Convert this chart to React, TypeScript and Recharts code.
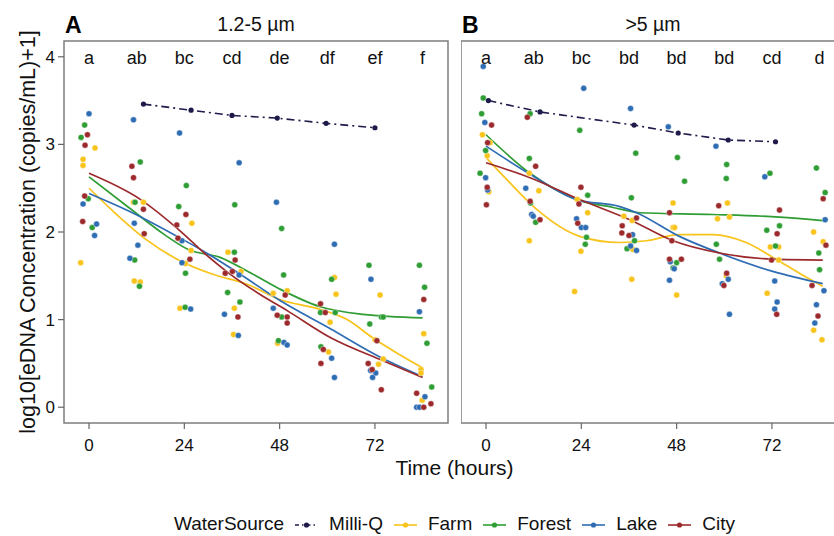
import React from "react";
import { ComposedChart, Scatter, Line, XAxis, YAxis, ReferenceArea } from "recharts";

type Pt = [number, number];

const FONT = '"Liberation Sans", Arial, Helvetica, sans-serif';

// axis ticks and group letters
const timeTicks = [0, 24, 48, 72];
const valueTicks = [0, 1, 2, 3, 4];
const sampleHours = [0, 12, 24, 36, 48, 60, 72, 84];
const lettersA = ["a", "ab", "bc", "cd", "de", "df", "ef", "f"];
const lettersB = ["a", "ab", "bc", "bd", "bd", "bd", "cd", "d"];
const panelTitles = ["1.2-5 µm", ">5 µm"];
const panelTags = ["A", "B"];

const sourceNames = ["Milli-Q", "Farm", "Forest", "Lake", "City"];
const sourceColors = ["#1e1b4b", "#f8c31a", "#2e9d33", "#2e6cb3", "#9c2a2c"];

// panel A (1.2-5 µm): [time (h, jittered), log10 conc]
const farmA: Pt[] = [
  [1.5, 2.96], [-1.5, 2.83], [-1.5, 2.76], [-2.1, 1.65],
  [13.7, 2.34], [11.2, 2.34], [11.4, 1.44], [12.9, 1.43],
  [25.9, 2.1], [25.7, 1.79], [24.3, 1.64], [22.9, 1.13],
  [35, 1.77], [38.3, 1.55], [36.6, 1.13], [36.4, 0.83],
  [46.4, 1.3], [49.9, 1.33], [47.5, 0.73],
  [61.8, 1.48], [62.2, 1.29], [60.7, 0.97], [60.3, 0.63],
  [73.3, 1.28], [72, 0.77], [72.9, 0.49], [74.1, 0.55],
  [84.3, 0.84], [83.6, 0.43], [83.6, 0.39], [83.9, 0.08],
];
const forestA: Pt[] = [
  [-1.1, 3.22], [-2, 3.08], [-0.2, 2.38], [0.8, 2.05],
  [12.9, 2.8], [11.6, 2.34], [11.5, 1.68], [12.7, 1.38],
  [24.5, 2.53], [22.6, 2.29], [24.3, 1.53], [24.2, 1.14],
  [36.7, 2.31], [36.6, 1.77], [34.9, 1.31], [38, 1.2],
  [48.5, 2.04], [49, 1.51], [48.5, 1.03], [47.7, 0.76],
  [61.1, 1.46], [58.3, 1.08], [62, 1.08], [58.4, 0.69],
  [70.5, 1.62], [70.7, 0.95], [73.6, 1.03], [74.1, 1.03],
  [83.2, 1.62], [84.5, 1.37], [85.1, 0.73], [86.3, 0.23],
];
const lakeA: Pt[] = [
  [0, 3.35], [-1.5, 2.32], [1.9, 2.09], [1.4, 1.96],
  [11.2, 3.28], [11.4, 2.1], [12.3, 1.85], [10.3, 1.7],
  [22.8, 3.13], [23.4, 1.9], [23.4, 1.65], [25.6, 1.12],
  [37.8, 2.79], [37.8, 1.51], [34.1, 1.06], [37.6, 0.82],
  [47.2, 2.34], [46.4, 1.13], [49.1, 0.74], [49.9, 0.71],
  [61.8, 1.86], [61.1, 0.56], [61.8, 0.34],
  [71, 1.46], [70.9, 0.42], [72.2, 0.39], [71.4, 0.34],
  [83.2, 1.09], [84.6, 0.12], [82.5, 0], [83.2, 0],
];
const cityA: Pt[] = [
  [-0.4, 3.11], [-1, 2.99], [-1.1, 2.41], [-1.6, 2.12],
  [10.8, 2.75], [11.2, 2.62], [13.7, 2.26], [13.9, 1.98],
  [24.4, 2.2], [22.1, 2.08], [22.4, 1.93], [25.4, 1.69],
  [36.8, 1.68], [36.1, 1.55], [34.3, 1.53], [37.5, 1.03],
  [49.4, 1.28], [47.4, 1.05], [49.9, 1.03], [49.9, 0.96],
  [58.3, 1.18], [59.5, 1.08], [59, 0.66], [58.4, 0.5],
  [72.5, 0.76], [70.3, 0.5], [71.3, 0.43], [73.6, 0.2],
  [84.3, 1.23], [82.5, 0.16], [84.3, 0], [86.1, 0.04],
];
const milliQA: Pt[] = [[13.7, 3.46], [25.7, 3.39], [36, 3.33], [47.4, 3.3], [59.7, 3.24], [72, 3.19]];

// loess fits, panel A
const farmFitA: Pt[] = [[0, 2.5], [6, 2.24], [14.5, 1.91], [23, 1.67], [31, 1.52], [40, 1.4], [48, 1.23], [58, 1.12], [65, 1.0], [71.5, 0.79], [77.5, 0.62], [84, 0.45]];
const forestFitA: Pt[] = [[0, 2.63], [10, 2.28], [19, 1.97], [25, 1.8], [33, 1.71], [40, 1.55], [48, 1.35], [58, 1.15], [69, 1.06], [84, 1.02]];
const lakeFitA: Pt[] = [[0, 2.44], [10, 2.24], [23, 1.93], [30, 1.75], [38, 1.52], [48, 1.22], [61, 0.89], [73, 0.58], [84, 0.35]];
const cityFitA: Pt[] = [[0, 2.67], [13, 2.37], [23, 2.01], [29, 1.76], [35.5, 1.52], [43, 1.29], [50, 1.1], [61, 0.79], [73, 0.55], [84, 0.34]];

// panel B (>5 µm)
const farmB: Pt[] = [
  [-0.9, 3.11], [1, 3.02], [0.3, 2.87], [0.7, 2.46],
  [10.9, 2.67], [13.3, 2.47], [10.9, 1.9],
  [23, 2.37], [25.6, 2.22], [23.9, 1.78], [22.3, 1.32],
  [34.7, 2.18], [36.8, 2.13], [37, 1.8], [36.7, 1.46],
  [47.1, 2.33], [47.1, 2.05], [47.5, 2.05], [48, 1.28],
  [60.8, 2.33], [58.3, 2.15], [61.3, 2.17], [60.5, 1.5],
  [71.6, 1.83], [73.7, 1.83], [73.7, 1.68], [70.8, 1.3],
  [82.5, 2.0], [84.9, 1.89], [82.5, 0.88], [84.6, 0.77],
];
const forestB: Pt[] = [
  [-0.7, 3.53], [-1.1, 3.35], [-0.1, 2.93], [-1.5, 2.67],
  [11.1, 3.35], [10.9, 2.84], [11.2, 2.33], [12.5, 2.11],
  [23.6, 3.16], [25.6, 2.42], [25.3, 1.94], [25, 1.86],
  [37.7, 2.9], [36.6, 2.39], [37.4, 1.9], [35.5, 1.81],
  [48.2, 2.85], [50, 2.58], [48, 1.65], [47.1, 1.59],
  [60.6, 2.77], [60.5, 2.61], [58, 1.86], [58.8, 1.69],
  [71.5, 2.67], [73.9, 2.07], [70.7, 2.02], [72.9, 1.84],
  [83.2, 2.73], [85.4, 2.45], [83.8, 1.76], [84, 1.57],
];
const lakeB: Pt[] = [
  [-0.7, 3.89], [-0.3, 3.25], [-0.1, 2.62], [0.4, 2.48],
  [10, 2.5], [11.5, 2.2], [11.9, 2.18],
  [24.6, 3.64], [22.8, 2.15], [24, 2.05], [25.1, 2.05],
  [36.4, 3.41], [36.9, 1.97], [36.4, 1.84], [37.9, 1.79],
  [45.9, 3.2], [46.4, 1.66], [47.4, 1.58], [46.2, 1.45],
  [57.9, 2.98], [61, 1.46], [59.5, 1.41], [61.3, 1.06],
  [70.2, 2.63], [72.7, 1.44], [73.3, 1.2], [72.7, 1.12],
  [85.4, 2.14], [85.1, 1.33], [83.2, 1.17], [82.8, 0.96],
];
const cityB: Pt[] = [
  [1.4, 3.22], [0.4, 3.02], [0.3, 2.51], [0.1, 2.31],
  [10.4, 3.31], [12.5, 2.75], [11.1, 2.35], [13.6, 2.14],
  [23.9, 2.51], [23.4, 2.32], [23.1, 2.1],
  [37.9, 2.16], [34.3, 2.07], [34.2, 1.99], [36, 1.96],
  [46.2, 2.22], [46.8, 1.9], [46.2, 1.69], [49.2, 1.69],
  [58.6, 2.3], [60.6, 1.53], [59.9, 1.39],
  [73.9, 2.25], [73.3, 1.98], [71.9, 1.68], [73.2, 1.06],
  [84.9, 2.38], [85.6, 1.85], [82.1, 1.39], [83.6, 1.04],
];
const milliQB: Pt[] = [[0.6, 3.5], [13.6, 3.37], [37.3, 3.22], [48.4, 3.13], [61, 3.05], [72.9, 3.03]];

const farmFitB: Pt[] = [[0, 2.85], [5.2, 2.6], [12.7, 2.26], [23.6, 1.95], [33.7, 1.88], [40.4, 1.9], [48.7, 1.97], [57.1, 1.97], [65.5, 1.88], [73, 1.69], [78.9, 1.53], [84.8, 1.38]];
const forestFitB: Pt[] = [[0, 3.11], [11.1, 2.67], [22.8, 2.37], [32, 2.28], [38.7, 2.22], [57.1, 2.2], [73.9, 2.17], [84.8, 2.13]];
const lakeFitB: Pt[] = [[0, 2.98], [11.1, 2.66], [22.8, 2.37], [33.7, 2.29], [37.9, 2.22], [48.7, 1.95], [58.8, 1.76], [72.2, 1.55], [84.8, 1.41]];
const cityFitB: Pt[] = [[0, 2.79], [11.1, 2.62], [23.6, 2.37], [36.2, 2.14], [47.1, 1.9], [58.8, 1.76], [72.2, 1.69], [84.8, 1.68]];

const X_DOMAIN: [number, number] = [-6.3, 90.4];
const Y_DOMAIN: [number, number] = [-0.18, 4.18];

// layout
const PLOT_TOP = 41;
const PLOT_W = 384;
const PLOT_H = 382;
const Y_AXIS_W = 64;
const LEFT_PLOT_X = Y_AXIS_W;
const RIGHT_PLOT_X = 461;
const CHART_H = 480;
const X_AXIS_H = 30;

const rows = (pts: Pt[]) => pts.map(([h, v]) => ({ h, v }));

function Dot(props: any) {
  const { cx, cy, fill } = props;
  if (cx == null || cy == null) return null;
  return <circle cx={cx} cy={cy} r={3} fill={fill} stroke="#fff" strokeWidth={0.4} />;
}

function Letter(props: any) {
  const { cx, cy, payload } = props;
  if (cx == null || cy == null) return null;
  return (
    <text x={cx} y={cy + 7} textAnchor="middle" fontSize={18} fill="#111" fontFamily={FONT}>
      {payload.label}
    </text>
  );
}

function YTitle(props: any) {
  const vb = props.viewBox || { x: 0, y: PLOT_TOP, width: Y_AXIS_W, height: PLOT_H };
  const x = vb.x + 35;
  const y = vb.y + vb.height / 2;
  return (
    <text x={x} y={y} transform={`rotate(-90 ${x} ${y})`} textAnchor="middle" fontSize={21.5} fill="#111" fontFamily={FONT}>
      log10[eDNA Concentration (copies/mL)+1]
    </text>
  );
}

type PanelProps = {
  points: Pt[][];
  fits: Pt[][];
  milliQ: Pt[];
  letters: string[];
  showY: boolean;
};

function Panel({ points, fits, milliQ, letters, showY }: PanelProps) {
  const letterRows = letters.map((label, i) => ({ h: sampleHours[i], v: 4, label }));
  const yW = showY ? Y_AXIS_W : 0;
  const width = yW + PLOT_W + (showY ? 4 : 0);
  return (
    <ComposedChart
      width={width}
      height={CHART_H}
      margin={{ top: PLOT_TOP, right: showY ? 4 : 0, bottom: CHART_H - PLOT_TOP - PLOT_H - X_AXIS_H, left: 0 }}
    >
      <XAxis
        type="number"
        dataKey="h"
        domain={X_DOMAIN}
        ticks={timeTicks}
        allowDataOverflow
        height={X_AXIS_H}
        axisLine={false}
        tickSize={6}
        tickMargin={10}
        tickLine={{ stroke: "#666", strokeWidth: 1.2 }}
        tick={{ fill: "#111", fontSize: 17, fontFamily: FONT }}
      />
      <YAxis
        type="number"
        dataKey="v"
        domain={Y_DOMAIN}
        ticks={valueTicks}
        allowDataOverflow
        hide={!showY}
        width={yW}
        axisLine={false}
        tickSize={6}
        tickMargin={3}
        tickLine={{ stroke: "#666", strokeWidth: 1.2 }}
        tick={{ fill: "#111", fontSize: 17, fontFamily: FONT }}
        label={<YTitle />}
      />
      <ReferenceArea
        x1={X_DOMAIN[0]}
        x2={X_DOMAIN[1]}
        y1={Y_DOMAIN[0]}
        y2={Y_DOMAIN[1]}
        fill="none"
        fillOpacity={0}
        stroke="#7d7d7d"
        strokeWidth={1.5}
        ifOverflow="visible"
      />
      {points.map((pts, i) => (
        <Scatter
          key={"p" + i}
          data={rows(pts)}
          fill={sourceColors[i + 1]}
          shape={<Dot />}
          isAnimationActive={false}
        />
      ))}
      <Scatter data={letterRows} shape={<Letter />} isAnimationActive={false} />
      {fits.map((pts, i) => (
        <Line
          key={"f" + i}
          data={rows(pts)}
          dataKey="v"
          type="monotone"
          stroke={sourceColors[i + 1]}
          strokeWidth={1.7}
          dot={false}
          activeDot={false}
          isAnimationActive={false}
        />
      ))}
      <Line
        data={rows(milliQ)}
        dataKey="v"
        type="linear"
        stroke={sourceColors[0]}
        strokeWidth={1.6}
        strokeDasharray="8 4 2 4"
        dot={{ r: 2.6, fill: sourceColors[0], stroke: sourceColors[0], strokeWidth: 0 }}
        activeDot={false}
        isAnimationActive={false}
      />
    </ComposedChart>
  );
}

function LegendKey({ color, dashed }: { color: string; dashed: boolean }) {
  return (
    <svg width={23} height={22} style={{ display: "block" }}>
      <line x1={0} x2={23} y1={12} y2={12} stroke={color} strokeWidth={1.6} strokeDasharray={dashed ? "4 3 1.5 3" : undefined} />
      <circle cx={11.5} cy={12} r={2.6} fill={color} />
    </svg>
  );
}

export default function App() {
  const panelX = [LEFT_PLOT_X, RIGHT_PLOT_X];
  const plotCenter = (LEFT_PLOT_X + RIGHT_PLOT_X + PLOT_W) / 2;
  return (
    <div
      style={{
        position: "absolute",
        left: 0,
        top: 0,
        width: 834,
        height: 536,
        overflow: "hidden",
        background: "#fff",
        fontFamily: FONT,
      }}
    >
      <div style={{ position: "absolute", left: 0, top: 0 }}>
        <Panel points={[farmA, forestA, lakeA, cityA]} fits={[farmFitA, forestFitA, lakeFitA, cityFitA]} milliQ={milliQA} letters={lettersA} showY />
      </div>
      <div style={{ position: "absolute", left: RIGHT_PLOT_X, top: 0 }}>
        <Panel points={[farmB, forestB, lakeB, cityB]} fits={[farmFitB, forestFitB, lakeFitB, cityFitB]} milliQ={milliQB} letters={lettersB} showY={false} />
      </div>
      <svg width={834} height={536} style={{ position: "absolute", left: 0, top: 0, pointerEvents: "none" }}>
        {panelTitles.map((t, i) => (
          <text key={t} x={panelX[i] + PLOT_W / 2} y={31} textAnchor="middle" fontSize={19.5} fill="#111" fontFamily={FONT}>
            {t}
          </text>
        ))}
        {panelTags.map((t, i) => (
          <text key={t} x={panelX[i] + 1} y={33} fontSize={23} fontWeight="bold" fill="#000" fontFamily={FONT}>
            {t}
          </text>
        ))}
        <text x={plotCenter} y={475} textAnchor="middle" fontSize={21} fill="#111" fontFamily={FONT}>
          Time (hours)
        </text>
      </svg>
      <div
        style={{
          position: "absolute",
          left: 0,
          top: 513,
          width: plotCenter * 2,
          display: "flex",
          justifyContent: "center",
          alignItems: "center",
          fontSize: 19,
          lineHeight: "22px",
          color: "#111",
          whiteSpace: "nowrap",
        }}
      >
        <span style={{ marginRight: 11 }}>WaterSource</span>
        {sourceNames.map((name, i) => (
          <React.Fragment key={name}>
            <LegendKey color={sourceColors[i]} dashed={i === 0} />
            <span style={{ marginLeft: 11, marginRight: i < sourceNames.length - 1 ? 11 : 0 }}>{name}</span>
          </React.Fragment>
        ))}
      </div>
    </div>
  );
}
